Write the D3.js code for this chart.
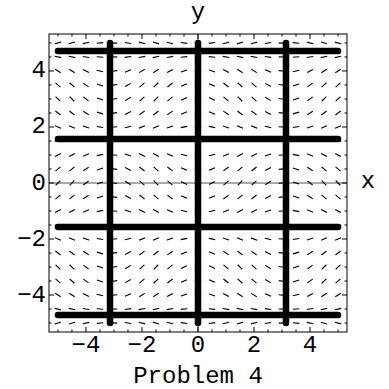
<!DOCTYPE html>
<html>
<head>
<meta charset="utf-8">
<script src="https://cdn.jsdelivr.net/npm/d3@7"></script>
<style>
  html, body { margin: 0; padding: 0; background: #fff; }
  svg { display: block; }
  text { font-family: "Liberation Mono", "DejaVu Sans Mono", monospace; fill: #000; }
</style>
</head>
<body>
<div id="chart"></div>
<script>
// Slope field of dy/dx = sin(x) cos(y) with the straight-line curves drawn on top.
const gridX = [-5, -4.5, -4, -3.5, -3, -2.5, -2, -1.5, -1, -0.5, 0, 0.5, 1, 1.5, 2, 2.5, 3, 3.5, 4, 4.5, 5];
const gridY = [-5, -4.5, -4, -3.5, -3, -2.5, -2, -1.5, -1, -0.5, 0, 0.5, 1, 1.5, 2, 2.5, 3, 3.5, 4, 4.5, 5];
const verticalCurves = [-Math.PI, 0, Math.PI];
const horizontalCurves = [-3 * Math.PI / 2, -Math.PI / 2, Math.PI / 2, 3 * Math.PI / 2];
const curveExtent = [-5, 5];
const majorTicks = [-4, -2, 0, 2, 4];
const minorTicks = [-5, -4.5, -3.5, -3, -2.5, -1.5, -1, -0.5, 0.5, 1, 1.5, 2.5, 3, 3.5, 4.5, 5];
const plotDomain = [-5.32, 5.32];
const xLabel = "x", yLabel = "y", title = "Problem 4";

const slope = (x, y) => Math.sin(x) * Math.cos(y);

const W = 389, H = 389;
const mLeft = 49, mRight = 347, mTop = 34, mBottom = 332;

const svg = d3.select("#chart").append("svg").attr("width", W).attr("height", H);

const x = d3.scaleLinear().domain(plotDomain).range([mLeft, mRight]);
const y = d3.scaleLinear().domain(plotDomain).range([mBottom, mTop]);

// axis through the origin
svg.append("line")
  .attr("x1", mLeft).attr("x2", mRight).attr("y1", y(0)).attr("y2", y(0))
  .attr("stroke", "#555").attr("stroke-width", 1);
svg.append("line")
  .attr("x1", x(0)).attr("x2", x(0)).attr("y1", mTop).attr("y2", mBottom)
  .attr("stroke", "#555").attr("stroke-width", 1);

// direction segments, each a short piece centred on its grid point
const segLen = 6.5;
const field = [];
gridX.forEach(gx => gridY.forEach(gy => field.push({ gx, gy, a: Math.atan(slope(gx, gy)) })));
svg.append("g").selectAll("line").data(field).join("line")
  .attr("x1", d => x(d.gx) - segLen / 2 * Math.cos(d.a))
  .attr("x2", d => x(d.gx) + segLen / 2 * Math.cos(d.a))
  .attr("y1", d => y(d.gy) + segLen / 2 * Math.sin(d.a))
  .attr("y2", d => y(d.gy) - segLen / 2 * Math.sin(d.a))
  .attr("stroke", "#000").attr("stroke-width", 1.1);

// thick curves
const curves = svg.append("g")
  .attr("stroke", "#000").attr("stroke-width", 6.5).attr("stroke-linecap", "round");
curves.selectAll(".h").data(horizontalCurves).join("line").attr("class", "h")
  .attr("x1", x(curveExtent[0])).attr("x2", x(curveExtent[1]))
  .attr("y1", d => y(d)).attr("y2", d => y(d));
curves.selectAll(".v").data(verticalCurves).join("line").attr("class", "v")
  .attr("y1", y(curveExtent[0])).attr("y2", y(curveExtent[1]))
  .attr("x1", d => x(d)).attr("x2", d => x(d));

// frame
svg.append("rect")
  .attr("x", mLeft).attr("y", mTop).attr("width", mRight - mLeft).attr("height", mBottom - mTop)
  .attr("fill", "none").attr("stroke", "#000").attr("stroke-width", 1);

// frame ticks on all four sides, pointing inward
const tickG = svg.append("g").attr("stroke", "#000").attr("stroke-width", 1);
const addTicks = (vals, len) => {
  tickG.selectAll(null).data(vals).join("line")
    .attr("x1", d => x(d)).attr("x2", d => x(d)).attr("y1", mBottom).attr("y2", mBottom - len);
  tickG.selectAll(null).data(vals).join("line")
    .attr("x1", d => x(d)).attr("x2", d => x(d)).attr("y1", mTop).attr("y2", mTop + len);
  tickG.selectAll(null).data(vals).join("line")
    .attr("y1", d => y(d)).attr("y2", d => y(d)).attr("x1", mLeft).attr("x2", mLeft + len);
  tickG.selectAll(null).data(vals).join("line")
    .attr("y1", d => y(d)).attr("y2", d => y(d)).attr("x1", mRight).attr("x2", mRight - len);
};
addTicks(majorTicks, 5);
addTicks(minorTicks, 2.5);

const fmt = d => d < 0 ? "\u2212" + Math.abs(d) : String(d);
const fs = 24;

svg.append("g").selectAll("text").data(majorTicks).join("text")
  .attr("x", d => x(d)).attr("y", mBottom + 13)
  .attr("text-anchor", "middle").attr("font-size", fs).attr("dominant-baseline", "central")
  .text(fmt);

svg.append("g").selectAll("text").data(majorTicks).join("text")
  .attr("x", mLeft - 3).attr("y", d => y(d))
  .attr("text-anchor", "end").attr("font-size", fs).attr("dominant-baseline", "central")
  .text(fmt);

svg.append("text").attr("x", x(0)).attr("y", 19)
  .attr("text-anchor", "middle").attr("font-size", fs).text(yLabel);
svg.append("text").attr("x", 368).attr("y", y(0) + 5)
  .attr("text-anchor", "middle").attr("font-size", fs).text(xLabel);
svg.append("text").attr("x", x(0)).attr("y", 383)
  .attr("text-anchor", "middle").attr("font-size", fs).text(title);
</script>
</body>
</html>
